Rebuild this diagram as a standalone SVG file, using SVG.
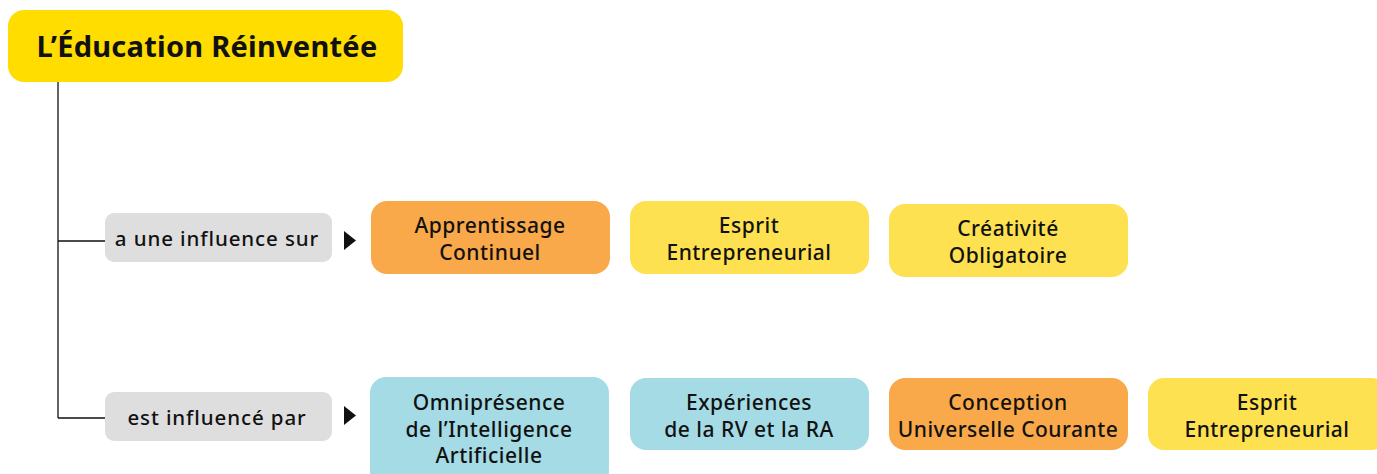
<svg xmlns="http://www.w3.org/2000/svg" width="1377" height="474" viewBox="0 0 1377 474">
<style>
text{font-family:"Noto Sans","Open Sans","DejaVu Sans",sans-serif;fill:#111;text-anchor:middle}
.title{font-size:29px;font-weight:700;letter-spacing:0.25px}
.lbl{font-size:20.5px;font-weight:500;letter-spacing:0.9px}
.nt{font-size:21px;font-weight:500;letter-spacing:0.5px}
.line{stroke:#111;stroke-width:1.3;fill:none}
.gray{fill:#DEDEDF}
.orange{fill:#F9A84A}
.yellow{fill:#FEE150}
.blue{fill:#A4DBE5}
</style>
<rect width="1377" height="474" fill="#fff"/>
<g id="connectors">
<path class="line" d="M58,82 V418 M58,241 H106 M58,418 H106"/>
<polygon points="344,231 356,240.5 344,250" fill="#111"/>
<polygon points="344,406 356,415.5 344,425" fill="#111"/>
</g>
<g id="title"><rect x="8" y="10" width="395" height="72" rx="16" fill="#FFDD00"/><text class="title" x="207" y="57">L’Éducation Réinventée</text></g>
<g id="lbl1"><rect class="gray" x="105" y="213" width="227" height="49" rx="9"/><text class="lbl" x="217" y="246">a une influence sur</text></g>
<g id="lbl2"><rect class="gray" x="105" y="392" width="227" height="49" rx="9"/><text class="lbl" x="217" y="425">est influencé par</text></g>
<g id="n1"><rect class="orange" x="371" y="201" width="239" height="73" rx="16"/><text class="nt" x="490" y="233">Apprentissage</text><text class="nt" x="490" y="260">Continuel</text></g>
<g id="n2"><rect class="yellow" x="630" y="201" width="239" height="73" rx="16"/><text class="nt" x="749" y="233">Esprit</text><text class="nt" x="749" y="260">Entrepreneurial</text></g>
<g id="n3"><rect class="yellow" x="889" y="204" width="239" height="73" rx="16"/><text class="nt" x="1008" y="236">Créativité</text><text class="nt" x="1008" y="263">Obligatoire</text></g>
<g id="n4"><rect class="blue" x="370" y="377" width="239" height="110" rx="16"/><text class="nt" x="489" y="410">Omniprésence</text><text class="nt" x="489" y="437">de l’Intelligence</text><text class="nt" x="489" y="463">Artificielle</text></g>
<g id="n5"><rect class="blue" x="630" y="378" width="239" height="72" rx="16"/><text class="nt" x="749" y="410">Expériences</text><text class="nt" x="749" y="437">de la RV et la RA</text></g>
<g id="n6"><rect class="orange" x="889" y="378" width="239" height="72" rx="16"/><text class="nt" x="1008" y="410">Conception</text><text class="nt" x="1008" y="437">Universelle Courante</text></g>
<g id="n7"><rect class="yellow" x="1148" y="378" width="239" height="72" rx="16"/><text class="nt" x="1267" y="410">Esprit</text><text class="nt" x="1267" y="437">Entrepreneurial</text></g>
</svg>
